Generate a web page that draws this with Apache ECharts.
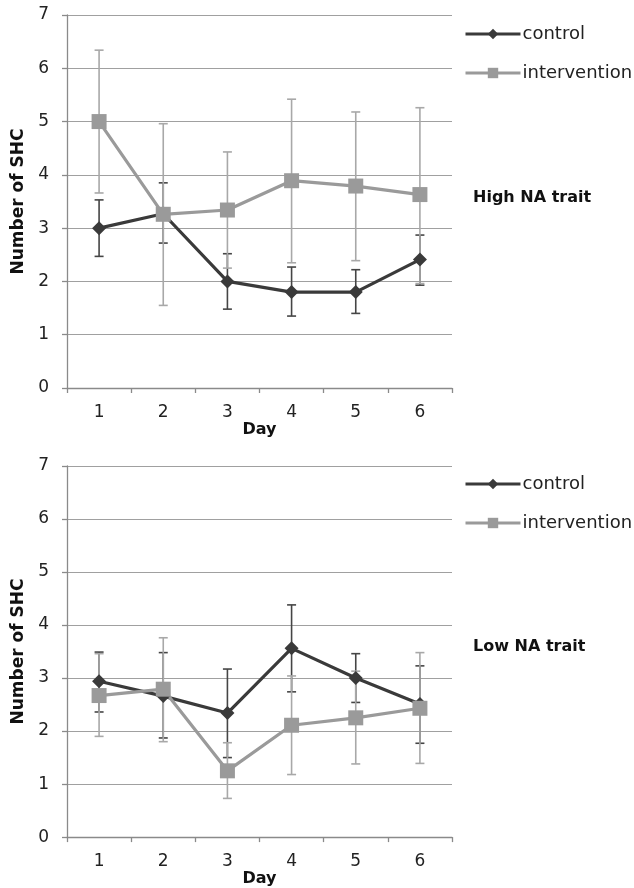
<!DOCTYPE html>
<html>
<head>
<meta charset="utf-8">
<script src="https://cdn.jsdelivr.net/npm/echarts@6/dist/echarts.min.js"></script>
<style>
  html, body { margin: 0; padding: 0; background: #fff; }
  #chart { width: 634px; height: 888px; }
</style>
</head>
<body>
<div id="chart"></div>
<script>
// Days on the x axis
const days = ['1', '2', '3', '4', '5', '6'];
const yTicks = [0, 1, 2, 3, 4, 5, 6, 7];

// High NA trait panel: means and error-bar ends
const highControl = [3.0, 3.27, 2.0, 1.8, 1.8, 2.41];
const highControlLow = [2.47, 2.72, 1.48, 1.35, 1.40, 1.93];
const highControlHigh = [3.53, 3.85, 2.52, 2.27, 2.22, 2.87];
const highIntervention = [5.0, 3.26, 3.34, 3.89, 3.79, 3.63];
const highInterventionLow = [3.66, 1.55, 2.25, 2.35, 2.39, 1.96];
const highInterventionHigh = [6.34, 4.96, 4.43, 5.42, 5.18, 5.26];

// Low NA trait panel: means and error-bar ends
const lowControl = [2.94, 2.66, 2.34, 3.56, 3.0, 2.51];
const lowControlLow = [2.36, 1.87, 1.50, 2.74, 2.54, 1.77];
const lowControlHigh = [3.49, 3.48, 3.17, 4.38, 3.46, 3.23];
const lowIntervention = [2.67, 2.79, 1.25, 2.11, 2.25, 2.43];
const lowInterventionLow = [1.90, 1.80, 0.73, 1.18, 1.38, 1.39];
const lowInterventionHigh = [3.46, 3.76, 1.78, 3.04, 3.13, 3.48];

const DARK = '#3a3a3a';
const LIGHT = '#9a9a9a';
const DARK_ERR = '#454545';
const LIGHT_ERR = '#a8a8a8';
const FONT = 'DejaVu Sans';

function errorData(low, high) {
  return days.map((d, i) => [i, low[i], high[i]]);
}

function errorSeries(idx, low, high, color) {
  return {
    type: 'custom',
    xAxisIndex: idx,
    yAxisIndex: idx,
    z: 1,
    silent: true,
    data: errorData(low, high),
    renderItem: function (params, api) {
      const x = api.value(0);
      const top = api.coord([x, api.value(2)]);
      const bot = api.coord([x, api.value(1)]);
      const hw = 4.5;
      const style = { stroke: color, lineWidth: 1.6 };
      return {
        type: 'group',
        children: [
          { type: 'line', shape: { x1: top[0], y1: top[1], x2: bot[0], y2: bot[1] }, style: style },
          { type: 'line', shape: { x1: top[0] - hw, y1: top[1], x2: top[0] + hw, y2: top[1] }, style: style },
          { type: 'line', shape: { x1: bot[0] - hw, y1: bot[1], x2: bot[0] + hw, y2: bot[1] }, style: style }
        ]
      };
    }
  };
}

function lineSeries(idx, name, values, color, symbol, size) {
  return {
    type: 'line',
    name: name,
    xAxisIndex: idx,
    yAxisIndex: idx,
    data: values,
    symbol: symbol,
    symbolSize: size,
    z: 3,
    lineStyle: { color: color, width: 3.2 },
    itemStyle: { color: color },
    emphasis: { disabled: true }
  };
}

function xAxis(idx) {
  return {
    type: 'category',
    gridIndex: idx,
    data: days,
    boundaryGap: true,
    name: 'Day',
    nameLocation: 'middle',
    nameGap: 29,
    nameTextStyle: { fontFamily: FONT, fontWeight: 'bold', fontSize: 16, color: '#111' },
    axisLine: { lineStyle: { color: '#8a8a8a', width: 1.3 } },
    axisTick: { show: true, alignWithLabel: false, length: 5, lineStyle: { color: '#8a8a8a', width: 1.3 } },
    axisLabel: { fontFamily: FONT, fontSize: 17, color: '#222', margin: 16 },
    splitLine: { show: false }
  };
}

function yAxis(idx) {
  return {
    type: 'value',
    gridIndex: idx,
    min: yTicks[0],
    max: yTicks[yTicks.length - 1],
    interval: 1,
    name: 'Number of SHC',
    nameLocation: 'middle',
    nameRotate: 90,
    nameGap: 40,
    nameTextStyle: { fontFamily: FONT, fontWeight: 'bold', fontSize: 17, color: '#111' },
    axisLine: { show: true, lineStyle: { color: '#8a8a8a', width: 1.3 } },
    axisTick: { show: true, length: 5, lineStyle: { color: '#8a8a8a', width: 1.3 } },
    axisLabel: { fontFamily: FONT, fontSize: 17, color: '#222', margin: 18 },
    splitLine: { show: true, lineStyle: { color: '#a0a0a0', width: 1 } }
  };
}

function legend(top) {
  return {
    orient: 'vertical',
    left: 464,
    top: top,
    padding: 0,
    itemWidth: 55,
    itemHeight: 13,
    itemGap: 21,
    data: ['control', 'intervention'],
    lineStyle: { width: 3 },
    textStyle: { fontFamily: FONT, fontSize: 18, color: '#222', padding: [0, 0, 0, -3] },
    selectedMode: false
  };
}

const chart = echarts.init(document.getElementById('chart'), null, { renderer: 'canvas' });

chart.setOption({
  animation: false,
  backgroundColor: '#fff',
  grid: [
    { left: 67, width: 385, top: 15, height: 373 },
    { left: 67, width: 385, top: 466, height: 373 }
  ],
  xAxis: [xAxis(0), xAxis(1)],
  yAxis: [yAxis(0), yAxis(1)],
  legend: [legend(25), legend(475)],
  title: [
    { text: 'High NA trait', left: 468, top: 185, textStyle: { fontFamily: FONT, fontWeight: 'bold', fontSize: 16, color: '#111' } },
    { text: 'Low NA trait', left: 468, top: 634, textStyle: { fontFamily: FONT, fontWeight: 'bold', fontSize: 16, color: '#111' } }
  ],
  series: [
    errorSeries(0, highControlLow, highControlHigh, DARK_ERR),
    errorSeries(0, highInterventionLow, highInterventionHigh, LIGHT_ERR),
    lineSeries(0, 'control', highControl, DARK, 'diamond', 14),
    lineSeries(0, 'intervention', highIntervention, LIGHT, 'rect', 15),
    errorSeries(1, lowControlLow, lowControlHigh, DARK_ERR),
    errorSeries(1, lowInterventionLow, lowInterventionHigh, LIGHT_ERR),
    lineSeries(1, 'control', lowControl, DARK, 'diamond', 14),
    lineSeries(1, 'intervention', lowIntervention, LIGHT, 'rect', 15)
  ]
});
</script>
</body>
</html>
